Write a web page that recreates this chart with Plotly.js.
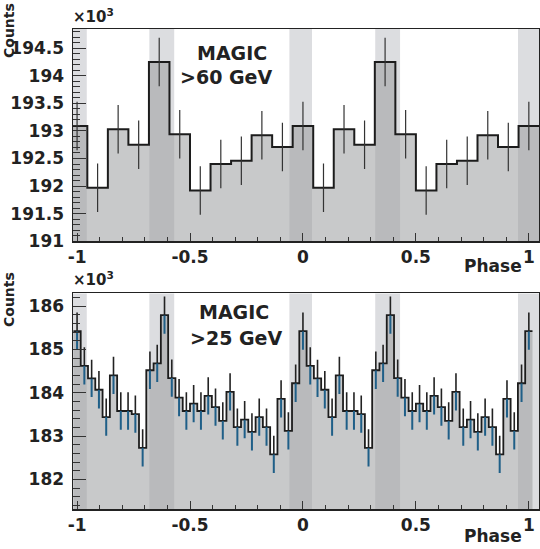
<!DOCTYPE html>
<html>
<head>
<meta charset="utf-8">
<script src="https://cdn.plot.ly/plotly-3.0.1.min.js"></script>
<style>
  html, body { margin: 0; padding: 0; background: #fff; }
  #plot { width: 540px; height: 549px; }
</style>
</head>
<body>
<div id="plot"></div>
<script>
// x10^3 counts, one rotation, bin centres at k/nBins (phase 0 = first bin)
var hi60Counts = [193.09, 191.97, 193.03, 192.75, 194.25, 192.94, 191.92, 192.40, 192.46, 192.92, 192.71];
var hi60Err    = [0.44, 0.44, 0.44, 0.44, 0.44, 0.44, 0.44, 0.44, 0.44, 0.44, 0.44];
var lo25Counts = [185.42, 184.62, 184.33, 184.07, 183.44, 184.40, 183.58, 183.58, 183.51, 182.73,
                  184.52, 184.68, 185.79, 184.34, 183.89, 183.58, 183.75, 183.58, 183.93, 183.67,
                  183.35, 184.02, 183.21, 183.38, 183.10, 183.44, 183.21, 182.58, 183.86, 183.12, 184.22];
var lo25Err    = [0.43, 0.43, 0.43, 0.43, 0.43, 0.43, 0.43, 0.43, 0.43, 0.43, 0.43,
                  0.43, 0.43, 0.43, 0.43, 0.43, 0.43, 0.43, 0.43, 0.43, 0.43,
                  0.43, 0.43, 0.43, 0.43, 0.43, 0.43, 0.43, 0.43, 0.43, 0.43];
// P1 / P2 windows (shaded)
var pulseWindows = [[-1.06, -0.957], [-0.68, -0.57], [-0.06, 0.04], [0.32, 0.43], [0.952, 1.06]];
var phaseTicks = [-1, -0.5, 0, 0.5, 1];
var phaseTickText = ['-1', '-0.5', '0', '0.5', '1'];

// repeat one rotation over phase -1..1
function phaseogram(counts, err) {
  var n = counts.length, out = {c: [], v: [], e: [], sx: [], sy: []};
  var half = 0.5 / n;
  for (var k = -n; k <= n; k++) {
    var i = ((k % n) + n) % n;
    var c = k / n;
    out.c.push(c); out.v.push(counts[i]); out.e.push(err[i]);
    out.sx.push(c - half, c + half);
    out.sy.push(counts[i], counts[i]);
  }
  return out;
}

var hiSet = phaseogram(hi60Counts, hi60Err);
var loSet = phaseogram(lo25Counts, lo25Err);
var zeros = loSet.e.map(function () { return 0; });

var W = 540, H = 549, ML = 73, MR = 1, MT = 29, MB = 40;
var PW = W - ML - MR, PH = H - MT - MB;
function px(x) { return (x - ML) / PW; }
function py(y) { return (H - MB - y) / PH; }

var fillCol = 'rgba(157,158,160,0.56)';
var lineCol = '#1c1c1c';

var data = [
  { x: hiSet.sx, y: hiSet.sy, xaxis: 'x', yaxis: 'y', type: 'scatter', mode: 'lines',
    line: {color: lineCol, width: 2}, fill: 'tozeroy', fillcolor: fillCol, hoverinfo: 'skip' },
  { x: hiSet.c, y: hiSet.v, xaxis: 'x', yaxis: 'y', type: 'scatter', mode: 'markers',
    marker: {size: 1, color: 'rgba(0,0,0,0)'},
    error_y: {type: 'data', array: hiSet.e, visible: true, color: '#333', thickness: 1.2, width: 0} },
  { x: loSet.sx, y: loSet.sy, xaxis: 'x2', yaxis: 'y2', type: 'scatter', mode: 'lines',
    line: {color: lineCol, width: 1.8}, fill: 'tozeroy', fillcolor: fillCol, hoverinfo: 'skip' },
  { x: loSet.c, y: loSet.v, xaxis: 'x2', yaxis: 'y2', type: 'scatter', mode: 'markers',
    marker: {size: 1, color: 'rgba(0,0,0,0)'},
    error_y: {type: 'data', symmetric: false, array: zeros, arrayminus: loSet.e, visible: true,
              color: '#1f5f88', thickness: 2, width: 0} },
  { x: loSet.c, y: loSet.v, xaxis: 'x2', yaxis: 'y2', type: 'scatter', mode: 'markers',
    marker: {size: 1, color: 'rgba(0,0,0,0)'},
    error_y: {type: 'data', symmetric: false, array: loSet.e, arrayminus: zeros, visible: true,
              color: '#222', thickness: 1.6, width: 0} }
];

var tickFont = {family: 'DejaVu Sans', size: 17, color: '#222', weight: 'bold'};

function xAxis(anchor) {
  return {
    anchor: anchor, domain: [0, 1], range: [-1.018, 1.045],
    tickmode: 'array', tickvals: phaseTicks, ticktext: phaseTickText,
    ticks: 'inside', ticklen: 8, tickwidth: 1, tickcolor: '#333',
    minor: {tickmode: 'linear', tick0: -1, dtick: 0.1, ticks: 'inside', ticklen: 4, tickwidth: 1, tickcolor: '#333'},
    showline: true, mirror: true, linecolor: '#222', linewidth: 1.5,
    showgrid: false, zeroline: false, tickfont: tickFont
  };
}
function yAxis(anchor, domain, range, tick0, dtick, mdtick) {
  return {
    anchor: anchor, domain: domain, range: range,
    tickmode: 'linear', tick0: tick0, dtick: dtick,
    ticks: 'inside', ticklen: 13, tickwidth: 1, tickcolor: '#333',
    minor: {tickmode: 'linear', tick0: tick0, dtick: mdtick, ticks: 'inside', ticklen: 7, tickwidth: 1, tickcolor: '#333'},
    showline: true, mirror: true, linecolor: '#222', linewidth: 1.5,
    showgrid: false, zeroline: false, tickfont: tickFont, ticklabelstandoff: 4
  };
}

var shapes = [];
['y', 'y2'].forEach(function (ya) {
  var xa = ya === 'y' ? 'x' : 'x2';
  pulseWindows.forEach(function (w) {
    shapes.push({type: 'rect', xref: xa, yref: ya + ' domain', x0: w[0], x1: w[1], y0: 0, y1: 1,
                 fillcolor: '#dcdde0', line: {width: 0}, layer: 'below'});
  });
});

var bold = function (s) { return {family: 'DejaVu Sans', size: s, color: '#222', weight: 'bold'}; };
function note(text, x, y, size, xa, extra) {
  var a = {text: text, xref: 'paper', yref: 'paper', x: px(x), y: py(y), xanchor: xa || 'center',
           yanchor: 'middle', showarrow: false, font: bold(size)};
  for (var k in extra || {}) a[k] = extra[k];
  return a;
}

var layout = {
  width: W, height: H,
  margin: {l: ML, r: MR, t: MT, b: MB},
  paper_bgcolor: '#fff', plot_bgcolor: '#fff',
  showlegend: false,
  xaxis: xAxis('y'),
  yaxis: yAxis('x', [0.558, 1], [191, 194.85], 191, 0.5, 0.1),
  xaxis2: xAxis('y2'),
  yaxis2: yAxis('x2', [0, 0.449], [181.32, 186.29], 182, 1, 0.2),
  shapes: shapes,
  annotations: [
    note('Counts', 9, 31, 14, 'center', {textangle: -90}),
    note('\u00d710<sup>3</sup>', 71, 16, 15, 'left'),
    note('MAGIC', 232, 53, 19),
    note('&gt;60 GeV', 226, 77, 19),
    note('Phase', 524, 266, 17, 'right'),
    note('Counts', 9, 300, 14, 'center', {textangle: -90}),
    note('\u00d710<sup>3</sup>', 71, 279, 15, 'left'),
    note('MAGIC', 234, 312, 19),
    note('&gt;25 GeV', 236, 338, 19),
    note('Phase', 524, 536, 17, 'right')
  ]
};

Plotly.newPlot('plot', data, layout, {displayModeBar: false, staticPlot: true});
</script>
</body>
</html>
